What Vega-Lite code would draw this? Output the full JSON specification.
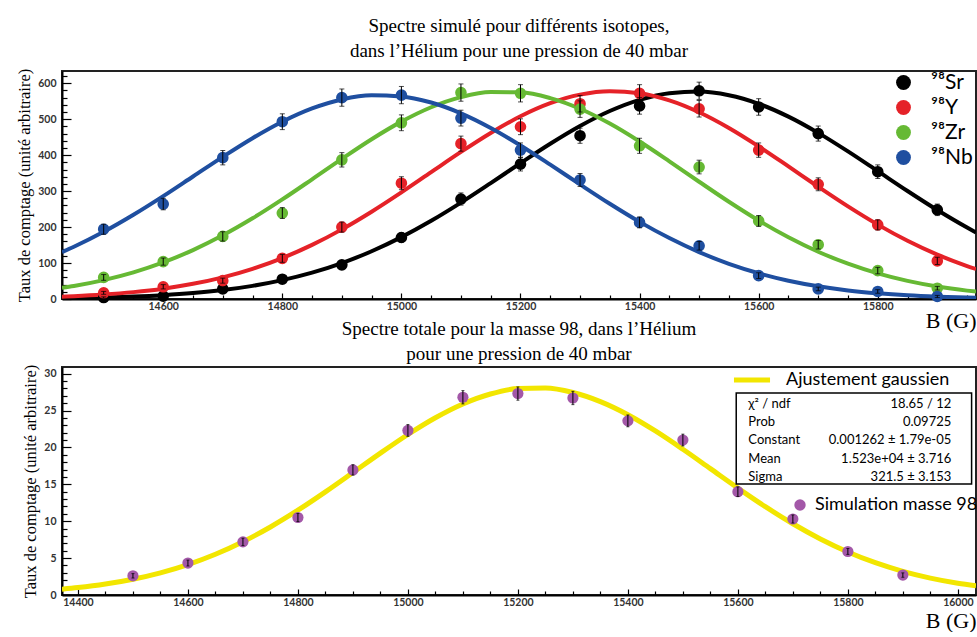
{
 "$schema": "https://vega.github.io/schema/vega-lite/v6.json",
 "background": "white",
 "padding": {"left": 15, "top": 16, "right": 0, "bottom": 0},
 "autosize": {"type": "pad"},
 "bounds": "flush",
 "spacing": 68,
 "config": {
  "view": {"stroke": "#222", "strokeWidth": 2},
  "axis": {"labelFont": "Lato", "labelFontSize": 10.5, "labelFontWeight": "bold", "labelColor": "#333", "domainColor": "#000", "domainWidth": 2, "tickColor": "#000", "tickWidth": 1.2, "grid": false, "titleFont": "Liberation Serif", "titleFontWeight": "normal", "titleColor": "#000", "labelOverlap": false, "labelFlush": false},
  "title": {"font": "Liberation Serif", "fontSize": 19, "fontWeight": "normal", "color": "#000", "lineHeight": 25, "frame": "group"},
  "legend": {"labelFont": "Lato", "labelColor": "#000", "labelLimit": 400}
 },
 "datasets": {
  "fit": [
   {"B":14430,"Sr":2.0,"Y":6.4,"Zr":31.1,"Nb":130.4},
   {"B":14450,"Sr":2.5,"Y":7.8,"Zr":36.3,"Nb":145.2},
   {"B":14500,"Sr":4.1,"Y":12.4,"Zr":52.6,"Nb":186.7},
   {"B":14550,"Sr":6.7,"Y":19.1,"Zr":74.1,"Nb":234.1},
   {"B":14600,"Sr":10.7,"Y":28.7,"Zr":101.7,"Nb":286.0},
   {"B":14650,"Sr":16.5,"Y":42.2,"Zr":136.0,"Nb":340.6},
   {"B":14700,"Sr":24.8,"Y":60.3,"Zr":177.0,"Nb":395.3},
   {"B":14750,"Sr":36.5,"Y":84.0,"Zr":224.3,"Nb":447.2},
   {"B":14800,"Sr":52.4,"Y":113.9,"Zr":276.9,"Nb":493.0},
   {"B":14850,"Sr":73.2,"Y":150.4,"Zr":332.9,"Nb":529.8},
   {"B":14900,"Sr":99.9,"Y":193.6,"Zr":389.7,"Nb":554.8},
   {"B":14950,"Sr":132.8,"Y":242.8,"Zr":444.3,"Nb":566.3},
   {"B":15000,"Sr":172.1,"Y":296.5,"Zr":493.2,"Nb":563.4},
   {"B":15050,"Sr":217.5,"Y":352.8,"Zr":533.2,"Nb":546.3},
   {"B":15100,"Sr":268.1,"Y":409.0,"Zr":561.3,"Nb":516.3},
   {"B":15150,"Sr":322.3,"Y":461.8,"Zr":575.5,"Nb":475.6},
   {"B":15200,"Sr":377.7,"Y":508.0,"Zr":574.6,"Nb":427.0},
   {"B":15250,"Sr":431.6,"Y":544.4,"Zr":558.7,"Nb":373.6},
   {"B":15300,"Sr":481.0,"Y":568.2,"Zr":529.0,"Nb":318.6},
   {"B":15350,"Sr":522.8,"Y":577.8,"Zr":487.7,"Nb":264.8},
   {"B":15400,"Sr":553.9,"Y":572.4,"Zr":437.9,"Nb":214.5},
   {"B":15450,"Sr":572.4,"Y":552.4,"Zr":382.9,"Nb":169.4},
   {"B":15500,"Sr":576.7,"Y":519.3,"Zr":326.1,"Nb":130.4},
   {"B":15550,"Sr":566.6,"Y":475.6,"Zr":270.4,"Nb":97.8},
   {"B":15600,"Sr":542.9,"Y":424.3,"Zr":218.3,"Nb":71.5},
   {"B":15650,"Sr":507.2,"Y":368.7,"Zr":171.7,"Nb":50.9},
   {"B":15700,"Sr":462.0,"Y":312.1,"Zr":131.5,"Nb":35.4},
   {"B":15750,"Sr":410.4,"Y":257.4,"Zr":98.1,"Nb":23.9},
   {"B":15800,"Sr":355.5,"Y":206.8,"Zr":71.2,"Nb":15.8},
   {"B":15850,"Sr":300.3,"Y":161.9,"Zr":50.4,"Nb":10.1},
   {"B":15900,"Sr":247.4,"Y":123.4,"Zr":34.7,"Nb":6.4},
   {"B":15950,"Sr":198.7,"Y":91.7,"Zr":23.3,"Nb":3.9},
   {"B":15965,"Sr":185.1,"Y":83.4,"Zr":20.5,"Nb":3.3}
  ],
  "pts": [
   {"iso":"Sr","B":14500,"y":4,"e":2},{"iso":"Sr","B":14600,"y":8,"e":3},{"iso":"Sr","B":14700,"y":28,"e":5},{"iso":"Sr","B":14800,"y":55,"e":7},{"iso":"Sr","B":14900,"y":95,"e":10},{"iso":"Sr","B":15000,"y":171,"e":13},{"iso":"Sr","B":15100,"y":278,"e":17},{"iso":"Sr","B":15200,"y":375,"e":19},{"iso":"Sr","B":15300,"y":454,"e":21},{"iso":"Sr","B":15400,"y":537,"e":23},{"iso":"Sr","B":15500,"y":579,"e":24},{"iso":"Sr","B":15600,"y":534,"e":23},{"iso":"Sr","B":15700,"y":460,"e":21},{"iso":"Sr","B":15800,"y":354,"e":19},{"iso":"Sr","B":15900,"y":248,"e":16},
   {"iso":"Y","B":14500,"y":17,"e":4},{"iso":"Y","B":14600,"y":34,"e":6},{"iso":"Y","B":14700,"y":51,"e":7},{"iso":"Y","B":14800,"y":113,"e":11},{"iso":"Y","B":14900,"y":200,"e":14},{"iso":"Y","B":15000,"y":322,"e":18},{"iso":"Y","B":15100,"y":432,"e":21},{"iso":"Y","B":15200,"y":479,"e":22},{"iso":"Y","B":15300,"y":543,"e":23},{"iso":"Y","B":15400,"y":572,"e":24},{"iso":"Y","B":15500,"y":529,"e":23},{"iso":"Y","B":15600,"y":414,"e":20},{"iso":"Y","B":15700,"y":319,"e":18},{"iso":"Y","B":15800,"y":206,"e":14},{"iso":"Y","B":15900,"y":106,"e":10},
   {"iso":"Zr","B":14500,"y":60,"e":8},{"iso":"Zr","B":14600,"y":104,"e":10},{"iso":"Zr","B":14700,"y":174,"e":13},{"iso":"Zr","B":14800,"y":239,"e":15},{"iso":"Zr","B":14900,"y":387,"e":20},{"iso":"Zr","B":15000,"y":490,"e":22},{"iso":"Zr","B":15100,"y":574,"e":24},{"iso":"Zr","B":15200,"y":572,"e":24},{"iso":"Zr","B":15300,"y":528,"e":23},{"iso":"Zr","B":15400,"y":426,"e":21},{"iso":"Zr","B":15500,"y":367,"e":19},{"iso":"Zr","B":15600,"y":217,"e":15},{"iso":"Zr","B":15700,"y":151,"e":12},{"iso":"Zr","B":15800,"y":79,"e":9},{"iso":"Zr","B":15900,"y":30,"e":5},
   {"iso":"Nb","B":14500,"y":194,"e":14},{"iso":"Nb","B":14600,"y":264,"e":16},{"iso":"Nb","B":14700,"y":393,"e":20},{"iso":"Nb","B":14800,"y":493,"e":22},{"iso":"Nb","B":14900,"y":560,"e":24},{"iso":"Nb","B":15000,"y":567,"e":24},{"iso":"Nb","B":15100,"y":503,"e":22},{"iso":"Nb","B":15200,"y":414,"e":20},{"iso":"Nb","B":15300,"y":331,"e":18},{"iso":"Nb","B":15400,"y":213,"e":15},{"iso":"Nb","B":15500,"y":148,"e":12},{"iso":"Nb","B":15600,"y":65,"e":8},{"iso":"Nb","B":15700,"y":28,"e":5},{"iso":"Nb","B":15800,"y":21,"e":5},{"iso":"Nb","B":15900,"y":7,"e":3}
  ],
  "tot": [
   {"B":14500,"y":2.6,"e":0.3},{"B":14600,"y":4.33,"e":0.4},{"B":14700,"y":7.2,"e":0.5},{"B":14800,"y":10.5,"e":0.55},{"B":14900,"y":16.95,"e":0.7},{"B":15000,"y":22.3,"e":0.8},{"B":15100,"y":26.8,"e":0.9},{"B":15200,"y":27.3,"e":0.9},{"B":15300,"y":26.7,"e":0.9},{"B":15400,"y":23.6,"e":0.8},{"B":15500,"y":21.0,"e":0.8},{"B":15600,"y":14.0,"e":0.65},{"B":15700,"y":10.3,"e":0.55},{"B":15800,"y":5.9,"e":0.4},{"B":15900,"y":2.7,"e":0.3}
  ],
  "totfit": [
   {"B":14371,"y":0.785},{"B":14400,"y":1.003},{"B":14450,"y":1.481},{"B":14500,"y":2.134},{"B":14550,"y":3.0},{"B":14600,"y":4.119},{"B":14650,"y":5.52},{"B":14700,"y":7.221},{"B":14750,"y":9.219},{"B":14800,"y":11.489},{"B":14850,"y":13.976},{"B":14900,"y":16.593},{"B":14950,"y":19.231},{"B":15000,"y":21.755},{"B":15050,"y":24.024},{"B":15100,"y":25.894},{"B":15150,"y":27.243},{"B":15200,"y":27.978},{"B":15250,"y":28.046},{"B":15300,"y":27.442},{"B":15350,"y":26.209},{"B":15400,"y":24.434},{"B":15450,"y":22.234},{"B":15500,"y":19.749},{"B":15550,"y":17.123},{"B":15600,"y":14.491},{"B":15650,"y":11.971},{"B":15700,"y":9.652},{"B":15750,"y":7.597},{"B":15800,"y":5.836},{"B":15850,"y":4.377},{"B":15900,"y":3.204},{"B":15950,"y":2.289},{"B":16000,"y":1.596},{"B":16033,"y":1.252}
  ],
  "stats": [
   {"lab": ["χ² / ndf", "Prob", "Constant", "Mean", "Sigma"], "val": ["18.65 / 12", "0.09725", "0.001262 ± 1.79e-05", "1.523e+04 ± 3.716", "321.5 ± 3.153"]}
  ]
 },
 "vconcat": [
  {
   "width": 914, "height": 228,
   "title": {"text": ["Spectre simulé pour différents isotopes,", "dans l’Hélium pour une pression de 40 mbar"], "offset": 7},
   "resolve": {"axis": {"x": "independent", "y": "independent"}},
   "layer": [
    {
     "data": {"name": "fit"},
     "mark": {"type": "line", "strokeWidth": 4, "interpolate": "monotone", "clip": true, "color": "#000000"},
     "encoding": {
      "x": {"field": "B", "type": "quantitative", "scale": {"domain": [14430, 15965], "nice": false, "zero": false},
       "axis": {"orient": "bottom", "title": "B (G)", "titleFontSize": 22, "titleAnchor": "end", "titleAlign": "right", "titleBaseline": "alphabetic", "titleX": 914, "titleY": 28,
        "values": [14600, 14800, 15000, 15200, 15400, 15600, 15800],
        "format": "d", "labelPadding": 8, "tickSize": -6}},
      "y": {"field": "Sr", "type": "quantitative", "scale": {"domain": [0, 634], "nice": false},
       "axis": {"orient": "left", "title": "Taux de comptage (unité arbitraire)", "titleFontSize": 16.5, "titlePadding": 5,
        "values": [0, 100, 200, 300, 400, 500, 600],
        "labelPadding": 15, "tickSize": -9}}
     }
    },
    {
     "data": {"name": "fit"},
     "mark": {"type": "line", "strokeWidth": 4, "interpolate": "monotone", "clip": true, "color": "#e52228"},
     "encoding": {
      "x": {"field": "B", "type": "quantitative", "axis": null},
      "y": {"field": "Y", "type": "quantitative", "axis": null}
     }
    },
    {
     "data": {"name": "fit"},
     "mark": {"type": "line", "strokeWidth": 4, "interpolate": "monotone", "clip": true, "color": "#66b934"},
     "encoding": {
      "x": {"field": "B", "type": "quantitative", "axis": null},
      "y": {"field": "Zr", "type": "quantitative", "axis": null}
     }
    },
    {
     "data": {"name": "fit"},
     "mark": {"type": "line", "strokeWidth": 4, "interpolate": "monotone", "clip": true, "color": "#1f4fa0"},
     "encoding": {
      "x": {"field": "B", "type": "quantitative", "axis": null},
      "y": {"field": "Nb", "type": "quantitative", "axis": null}
     }
    },
    {
     "data": {"name": "pts"},
     "mark": {"type": "circle", "size": 135, "opacity": 1},
     "encoding": {
      "x": {"field": "B", "type": "quantitative",
       "axis": {"orient": "bottom", "title": null, "labels": false, "domain": false, "tickSize": -4,
        "values": [14450,14500,14550,14650,14700,14750,14850,14900,14950,15050,15100,15150,15250,15300,15350,15450,15500,15550,15650,15700,15750,15850,15900,15950]}},
      "y": {"field": "y", "type": "quantitative",
       "axis": {"orient": "left", "title": null, "labels": false, "domain": false, "tickSize": -5,
        "values": [20,40,60,80,120,140,160,180,220,240,260,280,320,340,360,380,420,440,460,480,520,540,560,580,620]}},
      "color": {"field": "iso", "type": "nominal", "scale": {"domain": ["Sr", "Y", "Zr", "Nb"], "range": ["#000000", "#e52228", "#66b934", "#1f4fa0"]},
       "legend": {"orient": "none", "legendX": 831, "legendY": 1, "title": null, "symbolType": "circle", "symbolSize": 220, "labelFontSize": 21, "labelOffset": 17, "rowPadding": 3, "labelExpr": "'⁹⁸' + datum.label"}}
     }
    },
    {
     "data": {"name": "pts"},
     "mark": {"type": "errorbar", "ticks": true, "size": 5, "thickness": 1, "color": "#000"},
     "encoding": {
      "x": {"field": "B", "type": "quantitative", "axis": null},
      "y": {"field": "y", "type": "quantitative", "axis": null},
      "yError": {"field": "e"}
     }
    }
   ]
  },
  {
   "width": 914, "height": 228,
   "title": {"text": ["Spectre totale pour la masse 98, dans l’Hélium", "pour une pression de 40 mbar"], "offset": -5},
   "resolve": {"axis": {"x": "independent", "y": "independent"}},
   "layer": [
    {
     "data": {"name": "totfit"},
     "mark": {"type": "line", "strokeWidth": 5, "interpolate": "monotone", "clip": true},
     "encoding": {
      "x": {"field": "B", "type": "quantitative", "scale": {"domain": [14371, 16033], "nice": false, "zero": false},
       "axis": {"orient": "bottom", "title": "B (G)", "titleFontSize": 22, "titleAnchor": "end", "titleAlign": "right", "titleBaseline": "alphabetic", "titleX": 914, "titleY": 32,
        "values": [14400, 14600, 14800, 15000, 15200, 15400, 15600, 15800, 16000],
        "format": "d", "labelPadding": 8, "tickSize": -6}},
      "y": {"field": "y", "type": "quantitative", "scale": {"domain": [0, 30.9], "nice": false},
       "axis": {"orient": "left", "title": "Taux de comptage (unité arbitraire)", "titleFontSize": 16.5, "titlePadding": 5,
        "values": [0, 5, 10, 15, 20, 25, 30],
        "labelPadding": 15, "tickSize": -9}},
      "stroke": {"datum": "Ajustement gaussien", "scale": {"range": ["#f2e600"]},
       "legend": {"orient": "none", "legendX": 669, "legendY": -8, "title": null, "symbolType": "stroke", "symbolSize": 1300, "symbolStrokeWidth": 5, "labelFontSize": 18, "labelOffset": 13}}
     }
    },
    {
     "data": {"name": "tot"},
     "mark": {"type": "circle", "size": 125, "opacity": 1},
     "encoding": {
      "x": {"field": "B", "type": "quantitative",
       "axis": {"orient": "bottom", "title": null, "labels": false, "domain": false, "tickSize": -4,
        "values": [14450,14500,14550,14650,14700,14750,14850,14900,14950,15050,15100,15150,15250,15300,15350,15450,15500,15550,15650,15700,15750,15850,15900,15950]}},
      "y": {"field": "y", "type": "quantitative",
       "axis": {"orient": "left", "title": null, "labels": false, "domain": false, "tickSize": -5,
        "values": [1,2,3,4,6,7,8,9,11,12,13,14,16,17,18,19,21,22,23,24,26,27,28,29]}},
      "fill": {"datum": "Simulation masse 98", "scale": {"range": ["#a358a8"]},
       "legend": {"orient": "none", "legendX": 729, "legendY": 129, "title": null, "symbolType": "circle", "symbolSize": 130, "labelFontSize": 18, "labelOffset": 6}}
     }
    },
    {
     "data": {"name": "tot"},
     "mark": {"type": "errorbar", "ticks": true, "size": 3, "thickness": 1, "color": "#000"},
     "encoding": {
      "x": {"field": "B", "type": "quantitative", "axis": null},
      "y": {"field": "y", "type": "quantitative", "axis": null},
      "yError": {"field": "e"}
     }
    },
    {
     "data": {"name": "stats"},
     "mark": {"type": "rect", "fill": "white", "stroke": "#000", "strokeWidth": 1.5},
     "encoding": {
      "x": {"datum": 15597, "type": "quantitative", "axis": null},
      "x2": {"datum": 16025},
      "y": {"datum": 27.38, "type": "quantitative", "axis": null},
      "y2": {"datum": 15.04}
     }
    },
    {
     "data": {"name": "stats"},
     "mark": {"type": "text", "font": "Lato", "fontSize": 13, "align": "left", "baseline": "alphabetic", "lineHeight": 18.3, "color": "#000"},
     "encoding": {
      "x": {"datum": 15619, "type": "quantitative", "axis": null},
      "y": {"datum": 25.38, "type": "quantitative", "axis": null},
      "text": {"field": "lab"}
     }
    },
    {
     "data": {"name": "stats"},
     "mark": {"type": "text", "font": "Lato", "fontSize": 13, "align": "right", "baseline": "alphabetic", "lineHeight": 18.3, "color": "#000"},
     "encoding": {
      "x": {"datum": 15988, "type": "quantitative", "axis": null},
      "y": {"datum": 25.38, "type": "quantitative", "axis": null},
      "text": {"field": "val"}
     }
    }
   ]
  }
 ],
 "resolve": {
  "scale": {"x": "independent", "y": "independent", "color": "independent", "stroke": "independent", "fill": "independent"},
  "axis": {"x": "independent", "y": "independent"},
  "legend": {"color": "independent", "stroke": "independent", "fill": "independent"}
 }
}
